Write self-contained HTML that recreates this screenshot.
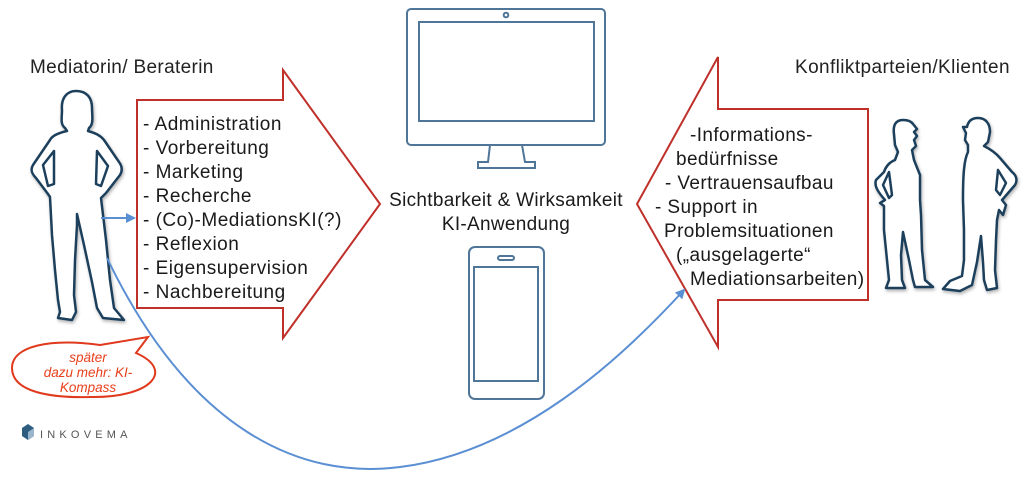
<!DOCTYPE html>
<html><head><meta charset="utf-8"><style>
html,body{margin:0;padding:0;background:#fff;}
svg{display:block;font-family:"Liberation Sans",sans-serif;}
</style></head><body>
<svg width="1024" height="478" viewBox="0 0 1024 478" xmlns="http://www.w3.org/2000/svg">
<defs>
<marker id="ah" markerWidth="10" markerHeight="10" refX="8" refY="5" orient="auto" markerUnits="userSpaceOnUse">
<path d="M0,0 L10,5 L0,10 Z" fill="#5b8fd3"/></marker>
<filter id="sh" x="-20%" y="-20%" width="140%" height="140%"><feDropShadow dx="1" dy="2" stdDeviation="1.5" flood-color="#000" flood-opacity="0.3"/></filter>
</defs>
<rect width="1024" height="478" fill="#fff"/>

<!-- headers -->
<text x="30" y="73" font-size="19" letter-spacing="0.35" fill="#222">Mediatorin/ Beraterin</text>
<text x="795" y="73" font-size="19" letter-spacing="0.4" fill="#222">Konfliktparteien/Klienten</text>

<!-- left arrow -->
<path d="M137,100 L283,100 L283,70 L380,204 L283,338 L283,308 L137,308 Z" fill="#fff" stroke="#c0302a" stroke-width="2"/>
<g font-size="19" letter-spacing="0.5" fill="#1a1a1a">
<text x="143" y="130">- Administration</text>
<text x="143" y="154">- Vorbereitung</text>
<text x="143" y="178">- Marketing</text>
<text x="143" y="202">- Recherche</text>
<text x="143" y="226">- (Co)-MediationsKI(?)</text>
<text x="143" y="250">- Reflexion</text>
<text x="143" y="274">- Eigensupervision</text>
<text x="143" y="298">- Nachbereitung</text>
</g>

<!-- right arrow -->
<path d="M868,109 L718,109 L718,57 L637,204 L718,347 L718,300 L868,300 Z" fill="#fff" stroke="#c0302a" stroke-width="2"/>
<g font-size="19" letter-spacing="0.4" fill="#1a1a1a">
<text x="690" y="141">-Informations-</text>
<text x="676" y="165">bedürfnisse</text>
<text x="665" y="189">- Vertrauensaufbau</text>
<text x="655" y="213">- Support in</text>
<text x="664" y="237">Problemsituationen</text>
<text x="676" y="261">(„ausgelagerte“</text>
<text x="690" y="285">Mediationsarbeiten)</text>
</g>

<!-- monitor -->
<g fill="none" stroke="#4f7699" stroke-width="2">
<rect x="407" y="9" width="198" height="136" rx="4"/>
<rect x="419" y="22" width="175" height="99"/>
<circle cx="506" cy="15" r="2.3"/>
<path d="M490,145 L488,162 L478,162 L478,168 L535,168 L535,162 L525,162 L522,145"/>
<rect x="469" y="247" width="75" height="152" rx="6"/>
<rect x="474" y="267" width="64" height="114"/>
<rect x="498" y="256" width="16" height="4" rx="2"/>
</g>
<text x="506" y="206" font-size="19" letter-spacing="0.3" fill="#1a1a1a" text-anchor="middle">Sichtbarkeit &amp; Wirksamkeit</text>
<text x="506" y="230" font-size="19" letter-spacing="0.3" fill="#1a1a1a" text-anchor="middle">KI-Anwendung</text>

<!-- mediator figure -->
<g fill="#fff" stroke="#1d3f5c" stroke-width="2.5" stroke-linejoin="round" filter="url(#sh)">
<path d="M76,91 C66,91 61,99 62,110 C62,118 60,124 65,128 L67,131 C58,133 52,136 50,140 L33,165 C30,170 32,174 36,178 L48,194 L50,197 L52,235 L55,270 L58,300 L60,312 L58,318 L72,320 L76,312 L74,295 L75,260 L77,225 L77,214 L84,245 L92,282 L97,308 L103,318 L124,320 L114,308 L110,280 L106,240 L101,198 L106,193 L120,175 C123,170 122,166 119,162 L104,140 C100,135 95,133 88,131 L89,128 C94,124 92,116 92,108 C92,98 87,91 76,91 Z"/>
<path d="M54,151 L43,165 L48,186 L54,184 Z" />
<path d="M97,151 L108,166 L101,186 L96,184 Z" />
</g>

<!-- right figures -->
<g fill="#fff" stroke="#1d3f5c" stroke-width="2.5" stroke-linejoin="round" filter="url(#sh)">
<path d="M903,120 C895,120 893,126 894,134 L895,145 L898,152 L895,160 C890,162 886,166 884,172 L876,180 C874,186 878,192 885,200 L880,203 L884,206 L884,230 L886,250 L888,270 L889,280 L886,288 L905,288 L902,280 L901,255 L903,232 L909,260 L913,280 L915,287 L933,287 L925,280 L922,250 L921,215 L920,200 L920,175 L914,160 L912,150 L916,146 L914,140 L917,136 L914,132 L917,129 L913,124 C911,121 907,120 903,120 Z"/>
<path d="M889,172 L883,185 L889,198 L892,195 Z"/>
<path d="M978,118 C971,118 968,122 967,127 L963,127 L966,133 L965,140 L968,145 L968,152 C964,160 963,175 963,200 L964,230 L964,260 L962,276 L950,281 L943,289 L960,291 L972,285 L977,262 L981,236 L983,262 L984,280 L987,290 L997,288 L995,270 L996,240 L997,220 L999,210 L1003,215 L1006,205 L1002,200 L1015,185 C1018,180 1016,175 1012,172 L1000,158 C995,152 988,148 984,146 L988,142 L990,132 C990,124 986,118 978,118 Z"/>
<path d="M998,170 L996,190 L1000,195 L1006,183 Z"/>
</g>

<!-- connectors -->
<line x1="101" y1="218" x2="134" y2="218" stroke="#5b8fd3" stroke-width="2" marker-end="url(#ah)"/>
<path d="M107,258 C190,430 300,480 400,467 C520,452 620,360 684,290" fill="none" stroke="#5b8fd3" stroke-width="2" marker-end="url(#ah)"/>

<!-- speech bubble -->
<path d="M100,345 L148,337 L136,353 C175,370 152,398 90,397 C50,398 12,392 12,368 C12,346 50,338 100,345 Z" fill="#fff" stroke="#e03a1e" stroke-width="2"/>
<g font-size="13.5" font-style="italic" fill="#e8401c" text-anchor="middle">
<text x="88" y="362">später</text>
<text x="88" y="377">dazu mehr: KI-</text>
<text x="88" y="392">Kompass</text>
</g>

<!-- logo -->
<path d="M28,424 L34,428 L34,436 L28,440 L22,436 L22,428 Z" fill="#2f5d80"/>
<path d="M28,432 L34,428 L34,436 L28,440 Z" fill="#9bb5cc"/>
<text x="40" y="438" font-size="11" fill="#555" letter-spacing="4.2">INKOVEMA</text>
</svg>
</body></html>
